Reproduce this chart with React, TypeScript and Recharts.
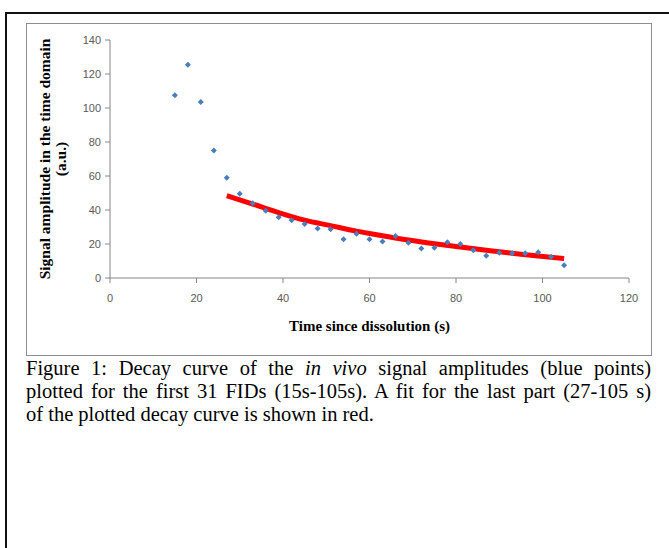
import React from "react";
import { ComposedChart, Scatter, Line, XAxis, YAxis } from "recharts";

// time of each FID (s)
const times = [
  15, 18, 21, 24, 27, 30, 33, 36, 39, 42, 45, 48, 51, 54, 57, 60,
  63, 66, 69, 72, 75, 78, 81, 84, 87, 90, 93, 96, 99, 102, 105,
];
// signal amplitude (a.u.)
const amplitudes = [
  107.5, 125.5, 103.5, 75, 59, 49.5, 44, 39.6, 35.7, 33.9, 31.8, 29.1, 28.7, 22.8, 26.1, 22.8,
  21.4, 24.7, 20.8, 17.4, 17.8, 21, 20, 16.3, 13.1, 14.9, 14.5, 14.5, 15.1, 12.5, 7.5,
];
// red fit
const fitTimes = [27, 33, 39, 45, 51, 57, 63, 69, 75, 81, 87, 93, 99, 105];
const fitValues = [48.4, 43.5, 38.5, 34, 30.8, 27.6, 24.9, 22.4, 20.2, 18.2, 16.3, 14.6, 12.9, 11.4];

const xTicks = [0, 20, 40, 60, 80, 100, 120];
const yTicks = [0, 20, 40, 60, 80, 100, 120, 140];

const points = times.map((t, i) => ({ x: t, y: amplitudes[i] }));
const fit = fitTimes.map((t, i) => ({ x: t, y: fitValues[i] }));

const tickStyle = { fontFamily: "'Liberation Sans', Arial, sans-serif", fontSize: 11, fill: "#595959" };
const titleFont = "'Liberation Serif', 'Times New Roman', serif";

const Diamond = (props: any) => {
  const { cx, cy } = props;
  return <path d={`M${cx},${cy - 3}L${cx + 3},${cy}L${cx},${cy + 3}L${cx - 3},${cy}Z`} fill="#4A7EBB" />;
};

const YTitle = (props: any) => {
  const vb = props.viewBox;
  const cy = vb.y + vb.height / 2;
  const x1 = vb.x + 17;
  const x2 = vb.x + 33;
  return (
    <g fontFamily={titleFont} fontWeight="bold" fontSize={15.5} fill="#000">
      <text x={x1} y={cy} textAnchor="middle" dominantBaseline="central" transform={`rotate(-90 ${x1} ${cy})`}>
        Signal amplitude in the time domain
      </text>
      <text x={x2} y={cy} textAnchor="middle" dominantBaseline="central" transform={`rotate(-90 ${x2} ${cy})`}>
        (a.u.)
      </text>
    </g>
  );
};

const XTitle = (props: any) => {
  const vb = props.viewBox;
  return (
    <text
      x={vb.x + vb.width / 2}
      y={vb.y + 48}
      textAnchor="middle"
      dominantBaseline="central"
      fontFamily={titleFont}
      fontWeight="bold"
      fontSize={15}
      fill="#000"
    >
      Time since dissolution (s)
    </text>
  );
};

const captionLine: React.CSSProperties = {
  textAlign: "justify",
  textAlignLast: "justify",
  whiteSpace: "nowrap",
};

export default function App() {
  return (
    <div style={{ position: "absolute", left: 0, top: 0, width: 669, height: 548, background: "#fff", overflow: "hidden" }}>
      <div
        style={{
          position: "absolute",
          left: 5,
          top: 12,
          width: 680,
          height: 560,
          borderLeft: "2px solid #111",
          borderTop: "2px solid #111",
        }}
      />
      <div
        style={{
          position: "absolute",
          left: 26,
          top: 23,
          width: 624,
          height: 331,
          border: "1px solid #8e8e8e",
        }}
      >
        <ComposedChart width={624} height={331} margin={{ top: 16, right: 22, bottom: 0, left: 0 }}>
          <XAxis
            type="number"
            dataKey="x"
            domain={[0, 120]}
            ticks={xTicks}
            interval={0}
            height={77}
            tickSize={5}
            tickMargin={11}
            stroke="#868686"
            tick={tickStyle}
            label={{ content: XTitle }}
          />
          <YAxis
            type="number"
            dataKey="y"
            domain={[0, 140]}
            ticks={yTicks}
            interval={0}
            width={83}
            tickSize={5}
            tickMargin={4}
            stroke="#868686"
            tick={tickStyle}
            label={{ content: YTitle }}
          />
          <Scatter data={points} dataKey="y" shape={Diamond} isAnimationActive={false} />
          <Line
            data={fit}
            dataKey="y"
            type="monotone"
            stroke="#FF0000"
            strokeWidth={5}
            dot={false}
            activeDot={false}
            isAnimationActive={false}
          />
        </ComposedChart>
      </div>
      <div
        style={{
          position: "absolute",
          left: 26,
          top: 357,
          width: 625,
          fontFamily: titleFont,
          fontSize: 20.5,
          lineHeight: "23px",
          color: "#000",
        }}
      >
        <div style={captionLine}>
          Figure 1: Decay curve of the <i>in vivo</i> signal amplitudes (blue points)
        </div>
        <div style={captionLine}>
          plotted for the first 31 FIDs (15s-105s). A fit for the last part (27-105 s)
        </div>
        <div>of the plotted decay curve is shown in red.</div>
      </div>
    </div>
  );
}
